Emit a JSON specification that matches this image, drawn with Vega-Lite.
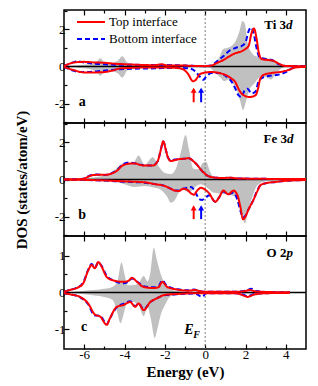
{
"$schema":"https://vega.github.io/schema/vega-lite/v6.json",
"padding":{"left":13,"top":8,"right":8,"bottom":4},
"spacing":0,
"bounds":"flush",
"config":{
 "view":{"stroke":"black","strokeWidth":1.5},
 "axis":{"grid":false,"domain":false,"tickColor":"black","tickWidth":1.2,"labelFont":"Liberation Serif","labelFontSize":13,"labelColor":"black","titleFont":"Liberation Serif","titleFontSize":15,"titleFontWeight":"bold","titleColor":"black"},
 "text":{"font":"Liberation Serif","color":"black"}
},
"resolve":{"legend":{"color":"independent","strokeDash":"independent"}},
"datasets":{
"a":[
{"s":"G","p":"u","E":-7,"v":0},{"s":"G","p":"u","E":-6.5,"v":0.05},{"s":"G","p":"u","E":-6,"v":0.1},{"s":"G","p":"u","E":-5.6,"v":0.15},{"s":"G","p":"u","E":-5.35,"v":0.3},{"s":"G","p":"u","E":-5.2,"v":0.45},{"s":"G","p":"u","E":-5.0,"v":0.25},{"s":"G","p":"u","E":-4.7,"v":0.2},{"s":"G","p":"u","E":-4.35,"v":0.3},{"s":"G","p":"u","E":-4.1,"v":0.55},{"s":"G","p":"u","E":-3.85,"v":0.2},{"s":"G","p":"u","E":-3.4,"v":0.1},{"s":"G","p":"u","E":-2.5,"v":0.05},{"s":"G","p":"u","E":-1.5,"v":0.03},{"s":"G","p":"u","E":-0.5,"v":0.02},{"s":"G","p":"u","E":0.2,"v":0.03},{"s":"G","p":"u","E":0.5,"v":0.15},{"s":"G","p":"u","E":0.7,"v":0.5},{"s":"G","p":"u","E":0.9,"v":0.95},{"s":"G","p":"u","E":1.1,"v":1.0},{"s":"G","p":"u","E":1.3,"v":1.1},{"s":"G","p":"u","E":1.5,"v":1.35},{"s":"G","p":"u","E":1.7,"v":1.9},{"s":"G","p":"u","E":1.85,"v":2.45},{"s":"G","p":"u","E":1.97,"v":2.3},{"s":"G","p":"u","E":2.1,"v":1.3},{"s":"G","p":"u","E":2.3,"v":0.75},{"s":"G","p":"u","E":2.5,"v":0.55},{"s":"G","p":"u","E":2.8,"v":0.5},{"s":"G","p":"u","E":3.1,"v":0.45},{"s":"G","p":"u","E":3.4,"v":0.25},{"s":"G","p":"u","E":3.7,"v":0.08},{"s":"G","p":"u","E":4.0,"v":0},{"s":"G","p":"u","E":5,"v":0},
{"s":"G","p":"d","E":-7,"v":0},{"s":"G","p":"d","E":-6.5,"v":-0.05},{"s":"G","p":"d","E":-6,"v":-0.1},{"s":"G","p":"d","E":-5.6,"v":-0.18},{"s":"G","p":"d","E":-5.35,"v":-0.35},{"s":"G","p":"d","E":-5.2,"v":-0.5},{"s":"G","p":"d","E":-5.0,"v":-0.28},{"s":"G","p":"d","E":-4.7,"v":-0.25},{"s":"G","p":"d","E":-4.35,"v":-0.35},{"s":"G","p":"d","E":-4.1,"v":-0.6},{"s":"G","p":"d","E":-3.85,"v":-0.2},{"s":"G","p":"d","E":-3.4,"v":-0.1},{"s":"G","p":"d","E":-2.5,"v":-0.05},{"s":"G","p":"d","E":-1.5,"v":-0.03},{"s":"G","p":"d","E":-0.5,"v":-0.02},{"s":"G","p":"d","E":0.2,"v":-0.05},{"s":"G","p":"d","E":0.5,"v":-0.35},{"s":"G","p":"d","E":0.75,"v":-0.6},{"s":"G","p":"d","E":0.95,"v":-0.8},{"s":"G","p":"d","E":1.15,"v":-0.7},{"s":"G","p":"d","E":1.35,"v":-0.9},{"s":"G","p":"d","E":1.55,"v":-1.2},{"s":"G","p":"d","E":1.72,"v":-1.8},{"s":"G","p":"d","E":1.88,"v":-2.35},{"s":"G","p":"d","E":2.02,"v":-1.9},{"s":"G","p":"d","E":2.2,"v":-1.25},{"s":"G","p":"d","E":2.45,"v":-0.9},{"s":"G","p":"d","E":2.7,"v":-0.6},{"s":"G","p":"d","E":2.97,"v":-0.55},{"s":"G","p":"d","E":3.25,"v":-0.7},{"s":"G","p":"d","E":3.5,"v":-0.4},{"s":"G","p":"d","E":3.8,"v":-0.1},{"s":"G","p":"d","E":4.1,"v":0},{"s":"G","p":"d","E":5,"v":0},
{"s":"T","p":"u","E":-7,"v":0.02},{"s":"T","p":"u","E":-6.8,"v":0.12},{"s":"T","p":"u","E":-6.5,"v":0.22},{"s":"T","p":"u","E":-6.0,"v":0.25},{"s":"T","p":"u","E":-5.5,"v":0.22},{"s":"T","p":"u","E":-5.0,"v":0.2},{"s":"T","p":"u","E":-4.5,"v":0.15},{"s":"T","p":"u","E":-4.0,"v":0.12},{"s":"T","p":"u","E":-3.5,"v":0.1},{"s":"T","p":"u","E":-3.0,"v":0.08},{"s":"T","p":"u","E":-2.5,"v":0.07},{"s":"T","p":"u","E":-2.15,"v":0.12},{"s":"T","p":"u","E":-1.9,"v":0.06},{"s":"T","p":"u","E":-1.0,"v":0.05},{"s":"T","p":"u","E":-0.5,"v":0.03},{"s":"T","p":"u","E":0,"v":0.02},{"s":"T","p":"u","E":0.3,"v":0.05},{"s":"T","p":"u","E":0.6,"v":0.2},{"s":"T","p":"u","E":0.9,"v":0.35},{"s":"T","p":"u","E":1.2,"v":0.55},{"s":"T","p":"u","E":1.5,"v":0.72},{"s":"T","p":"u","E":1.8,"v":0.82},{"s":"T","p":"u","E":2.0,"v":0.95},{"s":"T","p":"u","E":2.15,"v":1.1},{"s":"T","p":"u","E":2.3,"v":1.8},{"s":"T","p":"u","E":2.42,"v":2.05},{"s":"T","p":"u","E":2.55,"v":1.5},{"s":"T","p":"u","E":2.65,"v":0.8},{"s":"T","p":"u","E":2.8,"v":0.4},{"s":"T","p":"u","E":3.1,"v":0.35},{"s":"T","p":"u","E":3.4,"v":0.3},{"s":"T","p":"u","E":3.7,"v":0.12},{"s":"T","p":"u","E":4.0,"v":0.03},{"s":"T","p":"u","E":4.5,"v":0.02},{"s":"T","p":"u","E":5,"v":0.02},
{"s":"B","p":"u","E":-7,"v":0.02},{"s":"B","p":"u","E":-6.6,"v":0.2},{"s":"B","p":"u","E":-6.3,"v":0.28},{"s":"B","p":"u","E":-6.0,"v":0.22},{"s":"B","p":"u","E":-5.5,"v":0.15},{"s":"B","p":"u","E":-5.0,"v":0.12},{"s":"B","p":"u","E":-4.5,"v":0.1},{"s":"B","p":"u","E":-4.0,"v":0.1},{"s":"B","p":"u","E":-3.0,"v":0.08},{"s":"B","p":"u","E":-2.0,"v":0.08},{"s":"B","p":"u","E":-1.0,"v":0.05},{"s":"B","p":"u","E":0,"v":0.02},{"s":"B","p":"u","E":0.3,"v":0.05},{"s":"B","p":"u","E":0.6,"v":0.3},{"s":"B","p":"u","E":0.9,"v":0.55},{"s":"B","p":"u","E":1.2,"v":0.85},{"s":"B","p":"u","E":1.5,"v":1.0},{"s":"B","p":"u","E":1.8,"v":1.1},{"s":"B","p":"u","E":2.0,"v":1.3},{"s":"B","p":"u","E":2.15,"v":1.9},{"s":"B","p":"u","E":2.28,"v":2.1},{"s":"B","p":"u","E":2.4,"v":1.8},{"s":"B","p":"u","E":2.55,"v":1.0},{"s":"B","p":"u","E":2.7,"v":0.5},{"s":"B","p":"u","E":3.0,"v":0.4},{"s":"B","p":"u","E":3.3,"v":0.35},{"s":"B","p":"u","E":3.6,"v":0.15},{"s":"B","p":"u","E":4.0,"v":0.03},{"s":"B","p":"u","E":5,"v":0.02},
{"s":"T","p":"d","E":-7,"v":-0.02},{"s":"T","p":"d","E":-6.8,"v":-0.1},{"s":"T","p":"d","E":-6.5,"v":-0.2},{"s":"T","p":"d","E":-6.0,"v":-0.32},{"s":"T","p":"d","E":-5.5,"v":-0.32},{"s":"T","p":"d","E":-5.0,"v":-0.3},{"s":"T","p":"d","E":-4.6,"v":-0.22},{"s":"T","p":"d","E":-4.2,"v":-0.1},{"s":"T","p":"d","E":-3.5,"v":-0.07},{"s":"T","p":"d","E":-2.5,"v":-0.05},{"s":"T","p":"d","E":-1.5,"v":-0.07},{"s":"T","p":"d","E":-1.1,"v":-0.15},{"s":"T","p":"d","E":-0.85,"v":-0.4},{"s":"T","p":"d","E":-0.6,"v":-0.8},{"s":"T","p":"d","E":-0.45,"v":-0.7},{"s":"T","p":"d","E":-0.3,"v":-0.45},{"s":"T","p":"d","E":-0.1,"v":-0.35},{"s":"T","p":"d","E":0.3,"v":-0.3},{"s":"T","p":"d","E":0.7,"v":-0.35},{"s":"T","p":"d","E":1.0,"v":-0.45},{"s":"T","p":"d","E":1.3,"v":-0.65},{"s":"T","p":"d","E":1.5,"v":-0.85},{"s":"T","p":"d","E":1.65,"v":-1.2},{"s":"T","p":"d","E":1.8,"v":-1.45},{"s":"T","p":"d","E":2.0,"v":-1.6},{"s":"T","p":"d","E":2.2,"v":-1.65},{"s":"T","p":"d","E":2.5,"v":-1.55},{"s":"T","p":"d","E":2.62,"v":-1.2},{"s":"T","p":"d","E":2.72,"v":-0.7},{"s":"T","p":"d","E":2.9,"v":-0.45},{"s":"T","p":"d","E":3.3,"v":-0.35},{"s":"T","p":"d","E":3.7,"v":-0.3},{"s":"T","p":"d","E":4.1,"v":-0.2},{"s":"T","p":"d","E":4.5,"v":-0.05},{"s":"T","p":"d","E":5,"v":-0.02},
{"s":"B","p":"d","E":-7,"v":-0.02},{"s":"B","p":"d","E":-6.6,"v":-0.2},{"s":"B","p":"d","E":-6.2,"v":-0.3},{"s":"B","p":"d","E":-5.8,"v":-0.3},{"s":"B","p":"d","E":-5.3,"v":-0.25},{"s":"B","p":"d","E":-4.8,"v":-0.2},{"s":"B","p":"d","E":-4.3,"v":-0.15},{"s":"B","p":"d","E":-3.5,"v":-0.12},{"s":"B","p":"d","E":-2.5,"v":-0.1},{"s":"B","p":"d","E":-1.5,"v":-0.07},{"s":"B","p":"d","E":-0.8,"v":-0.1},{"s":"B","p":"d","E":-0.5,"v":-0.25},{"s":"B","p":"d","E":-0.3,"v":-0.5},{"s":"B","p":"d","E":-0.1,"v":-0.72},{"s":"B","p":"d","E":0.05,"v":-0.55},{"s":"B","p":"d","E":0.3,"v":-0.35},{"s":"B","p":"d","E":0.7,"v":-0.35},{"s":"B","p":"d","E":1.0,"v":-0.5},{"s":"B","p":"d","E":1.3,"v":-0.8},{"s":"B","p":"d","E":1.5,"v":-1.2},{"s":"B","p":"d","E":1.65,"v":-1.55},{"s":"B","p":"d","E":1.8,"v":-1.65},{"s":"B","p":"d","E":1.95,"v":-1.3},{"s":"B","p":"d","E":2.1,"v":-1.2},{"s":"B","p":"d","E":2.3,"v":-1.45},{"s":"B","p":"d","E":2.5,"v":-1.35},{"s":"B","p":"d","E":2.65,"v":-0.8},{"s":"B","p":"d","E":2.85,"v":-0.6},{"s":"B","p":"d","E":3.2,"v":-0.5},{"s":"B","p":"d","E":3.6,"v":-0.45},{"s":"B","p":"d","E":4.0,"v":-0.3},{"s":"B","p":"d","E":4.3,"v":-0.1},{"s":"B","p":"d","E":4.6,"v":-0.03},{"s":"B","p":"d","E":5,"v":-0.02}
],
"b":[
{"s":"G","p":"u","E":-7,"v":0},{"s":"G","p":"u","E":-6.3,"v":0.02},{"s":"G","p":"u","E":-5.8,"v":0.08},{"s":"G","p":"u","E":-5.3,"v":0.15},{"s":"G","p":"u","E":-4.8,"v":0.3},{"s":"G","p":"u","E":-4.4,"v":0.6},{"s":"G","p":"u","E":-4.0,"v":0.9},{"s":"G","p":"u","E":-3.6,"v":0.85},{"s":"G","p":"u","E":-3.3,"v":1.3},{"s":"G","p":"u","E":-3.0,"v":0.8},{"s":"G","p":"u","E":-2.6,"v":1.2},{"s":"G","p":"u","E":-2.3,"v":0.7},{"s":"G","p":"u","E":-2.0,"v":0.35},{"s":"G","p":"u","E":-1.7,"v":0.3},{"s":"G","p":"u","E":-1.45,"v":0.6},{"s":"G","p":"u","E":-1.2,"v":1.5},{"s":"G","p":"u","E":-0.97,"v":2.4},{"s":"G","p":"u","E":-0.8,"v":1.6},{"s":"G","p":"u","E":-0.6,"v":0.6},{"s":"G","p":"u","E":-0.35,"v":0.55},{"s":"G","p":"u","E":-0.1,"v":0.9},{"s":"G","p":"u","E":0.05,"v":0.95},{"s":"G","p":"u","E":0.25,"v":0.4},{"s":"G","p":"u","E":0.5,"v":0.08},{"s":"G","p":"u","E":1.0,"v":0.05},{"s":"G","p":"u","E":2,"v":0.03},{"s":"G","p":"u","E":3,"v":0.02},{"s":"G","p":"u","E":4,"v":0},{"s":"G","p":"u","E":5,"v":0},
{"s":"G","p":"d","E":-7,"v":0},{"s":"G","p":"d","E":-6,"v":-0.02},{"s":"G","p":"d","E":-5,"v":-0.05},{"s":"G","p":"d","E":-4.5,"v":-0.12},{"s":"G","p":"d","E":-4.0,"v":-0.25},{"s":"G","p":"d","E":-3.5,"v":-0.4},{"s":"G","p":"d","E":-3.0,"v":-0.35},{"s":"G","p":"d","E":-2.5,"v":-0.45},{"s":"G","p":"d","E":-2.2,"v":-0.55},{"s":"G","p":"d","E":-1.9,"v":-0.9},{"s":"G","p":"d","E":-1.7,"v":-1.25},{"s":"G","p":"d","E":-1.5,"v":-1.1},{"s":"G","p":"d","E":-1.3,"v":-0.7},{"s":"G","p":"d","E":-1.1,"v":-0.55},{"s":"G","p":"d","E":-0.8,"v":-0.7},{"s":"G","p":"d","E":-0.5,"v":-0.4},{"s":"G","p":"d","E":-0.2,"v":-0.25},{"s":"G","p":"d","E":0.1,"v":-0.45},{"s":"G","p":"d","E":0.4,"v":-0.7},{"s":"G","p":"d","E":0.7,"v":-0.75},{"s":"G","p":"d","E":1.0,"v":-0.8},{"s":"G","p":"d","E":1.3,"v":-0.85},{"s":"G","p":"d","E":1.6,"v":-1.0},{"s":"G","p":"d","E":1.8,"v":-1.6},{"s":"G","p":"d","E":1.97,"v":-2.37},{"s":"G","p":"d","E":2.15,"v":-1.6},{"s":"G","p":"d","E":2.35,"v":-0.9},{"s":"G","p":"d","E":2.6,"v":-0.3},{"s":"G","p":"d","E":3.0,"v":-0.1},{"s":"G","p":"d","E":3.5,"v":-0.05},{"s":"G","p":"d","E":4,"v":-0.02},{"s":"G","p":"d","E":5,"v":0},
{"s":"T","p":"u","E":-7,"v":0},{"s":"T","p":"u","E":-6.3,"v":0.01},{"s":"T","p":"u","E":-6.0,"v":0.05},{"s":"T","p":"u","E":-5.7,"v":0.2},{"s":"T","p":"u","E":-5.4,"v":0.25},{"s":"T","p":"u","E":-5.0,"v":0.25},{"s":"T","p":"u","E":-4.7,"v":0.3},{"s":"T","p":"u","E":-4.4,"v":0.45},{"s":"T","p":"u","E":-4.1,"v":0.75},{"s":"T","p":"u","E":-3.8,"v":0.85},{"s":"T","p":"u","E":-3.5,"v":0.87},{"s":"T","p":"u","E":-3.2,"v":0.78},{"s":"T","p":"u","E":-2.9,"v":0.75},{"s":"T","p":"u","E":-2.6,"v":0.75},{"s":"T","p":"u","E":-2.35,"v":1.0},{"s":"T","p":"u","E":-2.2,"v":1.6},{"s":"T","p":"u","E":-2.08,"v":2.07},{"s":"T","p":"u","E":-1.95,"v":1.6},{"s":"T","p":"u","E":-1.85,"v":1.2},{"s":"T","p":"u","E":-1.7,"v":1.0},{"s":"T","p":"u","E":-1.5,"v":1.05},{"s":"T","p":"u","E":-1.3,"v":1.1},{"s":"T","p":"u","E":-1.05,"v":1.12},{"s":"T","p":"u","E":-0.8,"v":1.15},{"s":"T","p":"u","E":-0.6,"v":1.0},{"s":"T","p":"u","E":-0.45,"v":0.85},{"s":"T","p":"u","E":-0.12,"v":0.42},{"s":"T","p":"u","E":0.13,"v":0.2},{"s":"T","p":"u","E":0.5,"v":0.1},{"s":"T","p":"u","E":0.9,"v":0.08},{"s":"T","p":"u","E":1.2,"v":0.1},{"s":"T","p":"u","E":1.6,"v":0.06},{"s":"T","p":"u","E":2.5,"v":0.04},{"s":"T","p":"u","E":3.5,"v":0.03},{"s":"T","p":"u","E":5,"v":0.02},
{"s":"B","p":"u","E":-7,"v":0},{"s":"B","p":"u","E":-6.3,"v":0.01},{"s":"B","p":"u","E":-6.0,"v":0.06},{"s":"B","p":"u","E":-5.7,"v":0.22},{"s":"B","p":"u","E":-5.4,"v":0.27},{"s":"B","p":"u","E":-5.0,"v":0.24},{"s":"B","p":"u","E":-4.7,"v":0.32},{"s":"B","p":"u","E":-4.4,"v":0.48},{"s":"B","p":"u","E":-4.1,"v":0.8},{"s":"B","p":"u","E":-3.8,"v":0.92},{"s":"B","p":"u","E":-3.5,"v":0.88},{"s":"B","p":"u","E":-3.2,"v":0.8},{"s":"B","p":"u","E":-2.9,"v":0.75},{"s":"B","p":"u","E":-2.6,"v":0.76},{"s":"B","p":"u","E":-2.35,"v":1.0},{"s":"B","p":"u","E":-2.2,"v":1.6},{"s":"B","p":"u","E":-2.08,"v":2.05},{"s":"B","p":"u","E":-1.95,"v":1.6},{"s":"B","p":"u","E":-1.85,"v":1.2},{"s":"B","p":"u","E":-1.7,"v":1.02},{"s":"B","p":"u","E":-1.5,"v":1.08},{"s":"B","p":"u","E":-1.3,"v":1.1},{"s":"B","p":"u","E":-1.05,"v":1.12},{"s":"B","p":"u","E":-0.8,"v":1.15},{"s":"B","p":"u","E":-0.6,"v":1.0},{"s":"B","p":"u","E":-0.45,"v":0.85},{"s":"B","p":"u","E":-0.12,"v":0.42},{"s":"B","p":"u","E":0.13,"v":0.2},{"s":"B","p":"u","E":0.5,"v":0.1},{"s":"B","p":"u","E":0.9,"v":0.08},{"s":"B","p":"u","E":1.2,"v":0.1},{"s":"B","p":"u","E":1.6,"v":0.06},{"s":"B","p":"u","E":2.5,"v":0.04},{"s":"B","p":"u","E":3.5,"v":0.03},{"s":"B","p":"u","E":5,"v":0.02},
{"s":"T","p":"d","E":-7,"v":0},{"s":"T","p":"d","E":-6,"v":-0.02},{"s":"T","p":"d","E":-5,"v":-0.05},{"s":"T","p":"d","E":-4,"v":-0.1},{"s":"T","p":"d","E":-3,"v":-0.15},{"s":"T","p":"d","E":-2.5,"v":-0.25},{"s":"T","p":"d","E":-2.0,"v":-0.35},{"s":"T","p":"d","E":-1.7,"v":-0.5},{"s":"T","p":"d","E":-1.5,"v":-0.6},{"s":"T","p":"d","E":-1.3,"v":-0.62},{"s":"T","p":"d","E":-1.1,"v":-0.5},{"s":"T","p":"d","E":-0.9,"v":-0.55},{"s":"T","p":"d","E":-0.7,"v":-0.75},{"s":"T","p":"d","E":-0.55,"v":-0.82},{"s":"T","p":"d","E":-0.4,"v":-0.6},{"s":"T","p":"d","E":-0.2,"v":-0.45},{"s":"T","p":"d","E":0.0,"v":-0.55},{"s":"T","p":"d","E":0.2,"v":-0.75},{"s":"T","p":"d","E":0.5,"v":-1.2},{"s":"T","p":"d","E":0.7,"v":-0.95},{"s":"T","p":"d","E":0.9,"v":-0.6},{"s":"T","p":"d","E":1.15,"v":-0.8},{"s":"T","p":"d","E":1.4,"v":-0.6},{"s":"T","p":"d","E":1.6,"v":-0.85},{"s":"T","p":"d","E":1.75,"v":-1.5},{"s":"T","p":"d","E":1.88,"v":-2.15},{"s":"T","p":"d","E":2.0,"v":-2.0},{"s":"T","p":"d","E":2.13,"v":-1.66},{"s":"T","p":"d","E":2.38,"v":-1.13},{"s":"T","p":"d","E":2.6,"v":-0.6},{"s":"T","p":"d","E":2.75,"v":-0.3},{"s":"T","p":"d","E":3.0,"v":-0.2},{"s":"T","p":"d","E":3.5,"v":-0.13},{"s":"T","p":"d","E":4.0,"v":-0.07},{"s":"T","p":"d","E":5,"v":-0.03},
{"s":"B","p":"d","E":-7,"v":0},{"s":"B","p":"d","E":-6,"v":-0.02},{"s":"B","p":"d","E":-5,"v":-0.06},{"s":"B","p":"d","E":-4,"v":-0.12},{"s":"B","p":"d","E":-3,"v":-0.17},{"s":"B","p":"d","E":-2.5,"v":-0.25},{"s":"B","p":"d","E":-2.0,"v":-0.35},{"s":"B","p":"d","E":-1.7,"v":-0.5},{"s":"B","p":"d","E":-1.5,"v":-0.6},{"s":"B","p":"d","E":-1.3,"v":-0.6},{"s":"B","p":"d","E":-1.1,"v":-0.5},{"s":"B","p":"d","E":-0.9,"v":-0.45},{"s":"B","p":"d","E":-0.7,"v":-0.4},{"s":"B","p":"d","E":-0.5,"v":-0.65},{"s":"B","p":"d","E":-0.3,"v":-1.05},{"s":"B","p":"d","E":-0.15,"v":-1.1},{"s":"B","p":"d","E":0.05,"v":-0.95},{"s":"B","p":"d","E":0.2,"v":-0.85},{"s":"B","p":"d","E":0.5,"v":-1.2},{"s":"B","p":"d","E":0.7,"v":-0.95},{"s":"B","p":"d","E":0.9,"v":-0.65},{"s":"B","p":"d","E":1.15,"v":-0.8},{"s":"B","p":"d","E":1.4,"v":-0.7},{"s":"B","p":"d","E":1.6,"v":-1.1},{"s":"B","p":"d","E":1.75,"v":-1.7},{"s":"B","p":"d","E":1.88,"v":-2.05},{"s":"B","p":"d","E":2.0,"v":-1.95},{"s":"B","p":"d","E":2.13,"v":-1.66},{"s":"B","p":"d","E":2.38,"v":-1.13},{"s":"B","p":"d","E":2.6,"v":-0.55},{"s":"B","p":"d","E":2.75,"v":-0.3},{"s":"B","p":"d","E":3.0,"v":-0.2},{"s":"B","p":"d","E":3.5,"v":-0.13},{"s":"B","p":"d","E":4.0,"v":-0.07},{"s":"B","p":"d","E":5,"v":-0.03}
],
"c":[
{"s":"G","p":"u","E":-7,"v":0},{"s":"G","p":"u","E":-6.5,"v":0.02},{"s":"G","p":"u","E":-6,"v":0.05},{"s":"G","p":"u","E":-5.5,"v":0.07},{"s":"G","p":"u","E":-5,"v":0.1},{"s":"G","p":"u","E":-4.6,"v":0.15},{"s":"G","p":"u","E":-4.35,"v":0.3},{"s":"G","p":"u","E":-4.15,"v":0.82},{"s":"G","p":"u","E":-4.0,"v":0.5},{"s":"G","p":"u","E":-3.85,"v":0.2},{"s":"G","p":"u","E":-3.6,"v":0.2},{"s":"G","p":"u","E":-3.3,"v":0.25},{"s":"G","p":"u","E":-3.05,"v":0.45},{"s":"G","p":"u","E":-2.85,"v":0.3},{"s":"G","p":"u","E":-2.7,"v":0.6},{"s":"G","p":"u","E":-2.55,"v":1.22},{"s":"G","p":"u","E":-2.4,"v":0.9},{"s":"G","p":"u","E":-2.2,"v":0.5},{"s":"G","p":"u","E":-2.0,"v":0.25},{"s":"G","p":"u","E":-1.8,"v":0.1},{"s":"G","p":"u","E":-1.5,"v":0.05},{"s":"G","p":"u","E":-1.0,"v":0.02},{"s":"G","p":"u","E":0,"v":0.01},{"s":"G","p":"u","E":1.5,"v":0.02},{"s":"G","p":"u","E":2.5,"v":0.03},{"s":"G","p":"u","E":3.5,"v":0.02},{"s":"G","p":"u","E":4,"v":0},{"s":"G","p":"u","E":5,"v":0},
{"s":"G","p":"d","E":-7,"v":0},{"s":"G","p":"d","E":-6.5,"v":-0.02},{"s":"G","p":"d","E":-6,"v":-0.05},{"s":"G","p":"d","E":-5.5,"v":-0.08},{"s":"G","p":"d","E":-5,"v":-0.12},{"s":"G","p":"d","E":-4.6,"v":-0.2},{"s":"G","p":"d","E":-4.4,"v":-0.45},{"s":"G","p":"d","E":-4.2,"v":-0.84},{"s":"G","p":"d","E":-4.0,"v":-0.5},{"s":"G","p":"d","E":-3.85,"v":-0.25},{"s":"G","p":"d","E":-3.6,"v":-0.25},{"s":"G","p":"d","E":-3.3,"v":-0.35},{"s":"G","p":"d","E":-3.05,"v":-0.65},{"s":"G","p":"d","E":-2.85,"v":-0.4},{"s":"G","p":"d","E":-2.7,"v":-0.7},{"s":"G","p":"d","E":-2.5,"v":-1.24},{"s":"G","p":"d","E":-2.35,"v":-0.95},{"s":"G","p":"d","E":-2.2,"v":-0.6},{"s":"G","p":"d","E":-2.0,"v":-0.35},{"s":"G","p":"d","E":-1.8,"v":-0.15},{"s":"G","p":"d","E":-1.5,"v":-0.05},{"s":"G","p":"d","E":-1.0,"v":-0.02},{"s":"G","p":"d","E":0,"v":-0.01},{"s":"G","p":"d","E":1.5,"v":-0.02},{"s":"G","p":"d","E":2.5,"v":-0.03},{"s":"G","p":"d","E":3.5,"v":-0.02},{"s":"G","p":"d","E":4,"v":0},{"s":"G","p":"d","E":5,"v":0},
{"s":"T","p":"u","E":-7,"v":0.02},{"s":"T","p":"u","E":-6.7,"v":0.07},{"s":"T","p":"u","E":-6.37,"v":0.12},{"s":"T","p":"u","E":-6.05,"v":0.25},{"s":"T","p":"u","E":-5.8,"v":0.6},{"s":"T","p":"u","E":-5.63,"v":0.75},{"s":"T","p":"u","E":-5.47,"v":0.66},{"s":"T","p":"u","E":-5.3,"v":0.83},{"s":"T","p":"u","E":-5.13,"v":0.7},{"s":"T","p":"u","E":-4.88,"v":0.42},{"s":"T","p":"u","E":-4.55,"v":0.33},{"s":"T","p":"u","E":-4.05,"v":0.29},{"s":"T","p":"u","E":-3.8,"v":0.32},{"s":"T","p":"u","E":-3.63,"v":0.4},{"s":"T","p":"u","E":-3.38,"v":0.29},{"s":"T","p":"u","E":-3.05,"v":0.15},{"s":"T","p":"u","E":-2.55,"v":0.12},{"s":"T","p":"u","E":-2.3,"v":0.15},{"s":"T","p":"u","E":-2.13,"v":0.29},{"s":"T","p":"u","E":-1.88,"v":0.15},{"s":"T","p":"u","E":-1.38,"v":0.08},{"s":"T","p":"u","E":-0.8,"v":0.05},{"s":"T","p":"u","E":-0.5,"v":0.07},{"s":"T","p":"u","E":-0.3,"v":0.04},{"s":"T","p":"u","E":0,"v":0.02},{"s":"T","p":"u","E":1.5,"v":0.02},{"s":"T","p":"u","E":2.0,"v":0.04},{"s":"T","p":"u","E":2.2,"v":0.07},{"s":"T","p":"u","E":2.5,"v":0.03},{"s":"T","p":"u","E":3.5,"v":0.01},{"s":"T","p":"u","E":4.2,"v":0.01},
{"s":"B","p":"u","E":-7,"v":0.02},{"s":"B","p":"u","E":-6.7,"v":0.07},{"s":"B","p":"u","E":-6.37,"v":0.13},{"s":"B","p":"u","E":-6.05,"v":0.27},{"s":"B","p":"u","E":-5.8,"v":0.62},{"s":"B","p":"u","E":-5.63,"v":0.78},{"s":"B","p":"u","E":-5.47,"v":0.68},{"s":"B","p":"u","E":-5.3,"v":0.82},{"s":"B","p":"u","E":-5.13,"v":0.72},{"s":"B","p":"u","E":-4.88,"v":0.45},{"s":"B","p":"u","E":-4.55,"v":0.33},{"s":"B","p":"u","E":-4.05,"v":0.25},{"s":"B","p":"u","E":-3.8,"v":0.3},{"s":"B","p":"u","E":-3.63,"v":0.38},{"s":"B","p":"u","E":-3.38,"v":0.3},{"s":"B","p":"u","E":-3.05,"v":0.17},{"s":"B","p":"u","E":-2.55,"v":0.14},{"s":"B","p":"u","E":-2.3,"v":0.18},{"s":"B","p":"u","E":-2.13,"v":0.33},{"s":"B","p":"u","E":-1.88,"v":0.17},{"s":"B","p":"u","E":-1.38,"v":0.09},{"s":"B","p":"u","E":-0.8,"v":0.06},{"s":"B","p":"u","E":-0.55,"v":0.08},{"s":"B","p":"u","E":-0.3,"v":0.04},{"s":"B","p":"u","E":0,"v":0.02},{"s":"B","p":"u","E":1.5,"v":0.02},{"s":"B","p":"u","E":2.0,"v":0.05},{"s":"B","p":"u","E":2.3,"v":0.1},{"s":"B","p":"u","E":2.5,"v":0.04},{"s":"B","p":"u","E":3.5,"v":0.01},{"s":"B","p":"u","E":4.2,"v":0.01},
{"s":"T","p":"d","E":-7,"v":-0.02},{"s":"T","p":"d","E":-6.7,"v":-0.05},{"s":"T","p":"d","E":-6.2,"v":-0.12},{"s":"T","p":"d","E":-5.8,"v":-0.3},{"s":"T","p":"d","E":-5.47,"v":-0.6},{"s":"T","p":"d","E":-5.2,"v":-0.66},{"s":"T","p":"d","E":-4.88,"v":-0.88},{"s":"T","p":"d","E":-4.72,"v":-0.7},{"s":"T","p":"d","E":-4.38,"v":-0.39},{"s":"T","p":"d","E":-4.05,"v":-0.34},{"s":"T","p":"d","E":-3.72,"v":-0.26},{"s":"T","p":"d","E":-3.47,"v":-0.39},{"s":"T","p":"d","E":-3.3,"v":-0.3},{"s":"T","p":"d","E":-3.05,"v":-0.48},{"s":"T","p":"d","E":-2.72,"v":-0.26},{"s":"T","p":"d","E":-2.4,"v":-0.16},{"s":"T","p":"d","E":-2.05,"v":-0.07},{"s":"T","p":"d","E":-1.4,"v":-0.04},{"s":"T","p":"d","E":-0.5,"v":-0.02},{"s":"T","p":"d","E":0,"v":-0.02},{"s":"T","p":"d","E":1.5,"v":-0.02},{"s":"T","p":"d","E":1.9,"v":-0.08},{"s":"T","p":"d","E":2.1,"v":-0.12},{"s":"T","p":"d","E":2.4,"v":-0.06},{"s":"T","p":"d","E":3,"v":-0.02},{"s":"T","p":"d","E":4.2,"v":-0.01},
{"s":"B","p":"d","E":-7,"v":-0.02},{"s":"B","p":"d","E":-6.7,"v":-0.05},{"s":"B","p":"d","E":-6.2,"v":-0.13},{"s":"B","p":"d","E":-5.8,"v":-0.32},{"s":"B","p":"d","E":-5.5,"v":-0.62},{"s":"B","p":"d","E":-5.2,"v":-0.64},{"s":"B","p":"d","E":-4.88,"v":-0.86},{"s":"B","p":"d","E":-4.72,"v":-0.7},{"s":"B","p":"d","E":-4.38,"v":-0.4},{"s":"B","p":"d","E":-4.0,"v":-0.3},{"s":"B","p":"d","E":-3.72,"v":-0.24},{"s":"B","p":"d","E":-3.47,"v":-0.37},{"s":"B","p":"d","E":-3.3,"v":-0.3},{"s":"B","p":"d","E":-3.05,"v":-0.46},{"s":"B","p":"d","E":-2.72,"v":-0.26},{"s":"B","p":"d","E":-2.4,"v":-0.16},{"s":"B","p":"d","E":-2.05,"v":-0.08},{"s":"B","p":"d","E":-1.4,"v":-0.05},{"s":"B","p":"d","E":-0.5,"v":-0.03},{"s":"B","p":"d","E":-0.15,"v":-0.12},{"s":"B","p":"d","E":0.05,"v":-0.02},{"s":"B","p":"d","E":1.5,"v":-0.02},{"s":"B","p":"d","E":1.9,"v":-0.06},{"s":"B","p":"d","E":2.1,"v":-0.1},{"s":"B","p":"d","E":2.4,"v":-0.05},{"s":"B","p":"d","E":3,"v":-0.02},{"s":"B","p":"d","E":4.2,"v":-0.01}
]
},
"vconcat":[
{
 "width":242,"height":113,
 "data":{"name":"a"},
 "resolve":{"axis":{"x":"independent","y":"independent"}},
 "layer":[
  {"transform":[{"filter":"datum.s=='G'"}],
   "mark":{"type":"area","color":"#c0c0c0","interpolate":"monotone"},
   "encoding":{
    "x":{"field":"E","type":"quantitative","scale":{"domain":[-7,5],"nice":false},"axis":{"orient":"bottom","values":[-6,-4,-2,0,2,4],"tickSize":-5,"labels":false,"title":null}},
    "y":{"field":"v","type":"quantitative","stack":null,"scale":{"domain":[-3.05,3.05],"nice":false},"axis":{"orient":"left","values":[-2,0,2],"tickSize":-5,"labelPadding":4,"labelExpr":"''+datum.value","minExtent":22,"maxExtent":22,"title":null}},
    "detail":{"field":"p"}}},
  {"data":{"values":[{}]},"mark":{"type":"rule","color":"#808080","strokeDash":[2,2],"strokeWidth":1},
   "encoding":{"x":{"datum":0,"axis":{"orient":"top","values":[-6,-4,-2,0,2,4],"tickSize":-5,"labels":false,"title":null}}}},
  {"data":{"values":[{}]},"mark":{"type":"rule","color":"black","strokeWidth":1.5},"encoding":{"y":{"datum":0,"axis":null}}},
  {"transform":[{"filter":"datum.s=='B'"}],"mark":{"type":"line","strokeWidth":2,"interpolate":"monotone"},
   "encoding":{
    "x":{"field":"E","type":"quantitative","axis":{"orient":"bottom","values":[-5,-3,-1,1,3],"tickSize":-3,"labels":false,"title":null}},
    "y":{"field":"v","type":"quantitative","axis":{"orient":"left","values":[-3,-1,1,3],"tickSize":-3,"labels":false,"title":null}},
    "color":{"field":"s","type":"nominal","scale":{"domain":["T","B"],"range":["#ff0000","#0000ff"]},"legend":{"orient":"none","legendX":12,"legendY":5.5,"title":null,"labelExpr":"datum.label=='T'?'Top interface':'Bottom interface'","symbolType":"stroke","symbolSize":784,"symbolStrokeWidth":2,"clipHeight":13,"rowPadding":3,"labelOffset":3,"padding":0,"labelFontSize":13,"labelFont":"Liberation Serif","labelColor":"black"}},
    "strokeDash":{"field":"s","type":"nominal","scale":{"domain":["T","B"],"range":[[1,0],[5,3]]},"legend":{"orient":"none","legendX":12,"legendY":5.5,"title":null,"labelExpr":"datum.label=='T'?'Top interface':'Bottom interface'","symbolType":"stroke","symbolSize":784,"symbolStrokeWidth":2,"clipHeight":13,"rowPadding":3,"labelOffset":3,"padding":0,"labelFontSize":13,"labelFont":"Liberation Serif","labelColor":"black"}},
    "detail":{"field":"p"}}},
  {"transform":[{"filter":"datum.s=='T'"}],"mark":{"type":"line","strokeWidth":2,"interpolate":"monotone"},
   "encoding":{
    "x":{"field":"E","type":"quantitative","axis":{"orient":"top","values":[-5,-3,-1,1,3],"tickSize":-3,"labels":false,"title":null}},
    "y":{"field":"v","type":"quantitative","axis":null},
    "color":{"field":"s","type":"nominal","scale":{"domain":["T","B"],"range":["#ff0000","#0000ff"]},"legend":{"orient":"none","legendX":12,"legendY":5.5,"title":null,"labelExpr":"datum.label=='T'?'Top interface':'Bottom interface'","symbolType":"stroke","symbolSize":784,"symbolStrokeWidth":2,"clipHeight":13,"rowPadding":3,"labelOffset":3,"padding":0,"labelFontSize":13,"labelFont":"Liberation Serif","labelColor":"black"}},
    "strokeDash":{"field":"s","type":"nominal","scale":{"domain":["T","B"],"range":[[1,0],[5,3]]},"legend":{"orient":"none","legendX":12,"legendY":5.5,"title":null,"labelExpr":"datum.label=='T'?'Top interface':'Bottom interface'","symbolType":"stroke","symbolSize":784,"symbolStrokeWidth":2,"clipHeight":13,"rowPadding":3,"labelOffset":3,"padding":0,"labelFontSize":13,"labelFont":"Liberation Serif","labelColor":"black"}},
    "detail":{"field":"p"}}},
  {"data":{"values":[{"s":"T","E":-0.57,"y1":-1.93,"y2":-1.25},{"s":"B","E":-0.2,"y1":-1.93,"y2":-1.25}]},
   "mark":{"type":"rule","strokeWidth":2},
   "encoding":{"x":{"field":"E","type":"quantitative","axis":null},"y":{"field":"y1","type":"quantitative","axis":null},"y2":{"field":"y2"},"color":{"field":"s","type":"nominal","legend":null}}},
  {"data":{"values":[{"s":"T","E":-0.57,"h":-1.28},{"s":"B","E":-0.2,"h":-1.28}]},
   "mark":{"type":"point","shape":"triangle-up","filled":true,"size":35,"opacity":1},
   "encoding":{"x":{"field":"E","type":"quantitative","axis":null},"y":{"field":"h","type":"quantitative","axis":null},"color":{"field":"s","type":"nominal","legend":null}}},
  {"data":{"values":[{"E":-6.1,"v":-1.93,"t":"a"}]},
   "mark":{"type":"text","fontWeight":"bold","fontSize":14,"align":"center","baseline":"middle"},
   "encoding":{"x":{"field":"E","type":"quantitative","axis":null},"y":{"field":"v","type":"quantitative","axis":null},"text":{"field":"t"}}},
  {"data":{"values":[{"E":4.01,"v":2.24,"t":"Ti 3"}]},
   "mark":{"type":"text","fontWeight":"bold","fontSize":13,"align":"right","baseline":"middle"},
   "encoding":{"x":{"field":"E","type":"quantitative","axis":null},"y":{"field":"v","type":"quantitative","axis":null},"text":{"field":"t"}}},
  {"data":{"values":[{"E":4.01,"v":2.24,"t":"d"}]},
   "mark":{"type":"text","fontWeight":"bold","fontStyle":"italic","fontSize":13,"align":"left","baseline":"middle"},
   "encoding":{"x":{"field":"E","type":"quantitative","axis":null},"y":{"field":"v","type":"quantitative","axis":null},"text":{"field":"t"}}}
 ]
},
{
 "width":242,"height":113,
 "data":{"name":"b"},
 "resolve":{"axis":{"x":"independent","y":"independent"}},
 "layer":[
  {"transform":[{"filter":"datum.s=='G'"}],
   "mark":{"type":"area","color":"#c0c0c0","interpolate":"monotone"},
   "encoding":{
    "x":{"field":"E","type":"quantitative","scale":{"domain":[-7,5],"nice":false},"axis":{"orient":"bottom","values":[-6,-4,-2,0,2,4],"tickSize":-5,"labels":false,"title":null}},
    "y":{"field":"v","type":"quantitative","stack":null,"scale":{"domain":[-3.05,3.05],"nice":false},"axis":{"orient":"left","values":[-2,0,2],"tickSize":-5,"labelPadding":4,"labelExpr":"''+datum.value","minExtent":22,"maxExtent":22,"title":"DOS (states/atom/eV)","titlePadding":13}},
    "detail":{"field":"p"}}},
  {"data":{"values":[{}]},"mark":{"type":"rule","color":"#808080","strokeDash":[2,2],"strokeWidth":1},
   "encoding":{"x":{"datum":0,"axis":{"orient":"top","values":[-6,-4,-2,0,2,4],"tickSize":-5,"labels":false,"title":null}}}},
  {"data":{"values":[{}]},"mark":{"type":"rule","color":"black","strokeWidth":1.5},"encoding":{"y":{"datum":0,"axis":null}}},
  {"transform":[{"filter":"datum.s=='B'"}],"mark":{"type":"line","strokeWidth":2,"interpolate":"monotone"},
   "encoding":{
    "x":{"field":"E","type":"quantitative","axis":{"orient":"bottom","values":[-5,-3,-1,1,3],"tickSize":-3,"labels":false,"title":null}},
    "y":{"field":"v","type":"quantitative","axis":{"orient":"left","values":[-3,-1,1,3],"tickSize":-3,"labels":false,"title":null}},
    "color":{"field":"s","type":"nominal","scale":{"domain":["T","B"],"range":["#ff0000","#0000ff"]},"legend":null},
    "strokeDash":{"field":"s","type":"nominal","scale":{"domain":["T","B"],"range":[[1,0],[5,3]]},"legend":null},
    "detail":{"field":"p"}}},
  {"transform":[{"filter":"datum.s=='T'"}],"mark":{"type":"line","strokeWidth":2,"interpolate":"monotone"},
   "encoding":{
    "x":{"field":"E","type":"quantitative","axis":{"orient":"top","values":[-5,-3,-1,1,3],"tickSize":-3,"labels":false,"title":null}},
    "y":{"field":"v","type":"quantitative","axis":null},
    "color":{"field":"s","type":"nominal","scale":{"domain":["T","B"],"range":["#ff0000","#0000ff"]},"legend":null},
    "strokeDash":{"field":"s","type":"nominal","scale":{"domain":["T","B"],"range":[[1,0],[5,3]]},"legend":null},
    "detail":{"field":"p"}}},
  {"data":{"values":[{"s":"T","E":-0.57,"y1":-2.14,"y2":-1.5},{"s":"B","E":-0.2,"y1":-2.14,"y2":-1.5}]},
   "mark":{"type":"rule","strokeWidth":2},
   "encoding":{"x":{"field":"E","type":"quantitative","axis":null},"y":{"field":"y1","type":"quantitative","axis":null},"y2":{"field":"y2"},"color":{"field":"s","type":"nominal","legend":null}}},
  {"data":{"values":[{"s":"T","E":-0.57,"h":-1.53},{"s":"B","E":-0.2,"h":-1.53}]},
   "mark":{"type":"point","shape":"triangle-up","filled":true,"size":35,"opacity":1},
   "encoding":{"x":{"field":"E","type":"quantitative","axis":null},"y":{"field":"h","type":"quantitative","axis":null},"color":{"field":"s","type":"nominal","legend":null}}},
  {"data":{"values":[{"E":-6.1,"v":-1.93,"t":"b"}]},
   "mark":{"type":"text","fontWeight":"bold","fontSize":14,"align":"center","baseline":"middle"},
   "encoding":{"x":{"field":"E","type":"quantitative","axis":null},"y":{"field":"v","type":"quantitative","axis":null},"text":{"field":"t"}}},
  {"data":{"values":[{"E":4.06,"v":2.2,"t":"Fe 3"}]},
   "mark":{"type":"text","fontWeight":"bold","fontSize":13,"align":"right","baseline":"middle"},
   "encoding":{"x":{"field":"E","type":"quantitative","axis":null},"y":{"field":"v","type":"quantitative","axis":null},"text":{"field":"t"}}},
  {"data":{"values":[{"E":4.06,"v":2.2,"t":"d"}]},
   "mark":{"type":"text","fontWeight":"bold","fontStyle":"italic","fontSize":13,"align":"left","baseline":"middle"},
   "encoding":{"x":{"field":"E","type":"quantitative","axis":null},"y":{"field":"v","type":"quantitative","axis":null},"text":{"field":"t"}}}
 ]
},
{
 "width":242,"height":113,
 "data":{"name":"c"},
 "resolve":{"axis":{"x":"independent","y":"independent"}},
 "layer":[
  {"transform":[{"filter":"datum.s=='G'"}],
   "mark":{"type":"area","color":"#c0c0c0","interpolate":"monotone"},
   "encoding":{
    "x":{"field":"E","type":"quantitative","scale":{"domain":[-7,5],"nice":false},"axis":{"orient":"bottom","values":[-6,-4,-2,0,2,4],"tickSize":-5,"labelPadding":4,"labelExpr":"''+datum.value","title":"Energy (eV)","titlePadding":3}},
    "y":{"field":"v","type":"quantitative","stack":null,"scale":{"domain":[-1.54,1.54],"nice":false},"axis":{"orient":"left","values":[-1,0,1],"tickSize":-5,"labelPadding":4,"labelExpr":"''+datum.value","minExtent":22,"maxExtent":22,"title":null}},
    "detail":{"field":"p"}}},
  {"data":{"values":[{}]},"mark":{"type":"rule","color":"#808080","strokeDash":[2,2],"strokeWidth":1},
   "encoding":{"x":{"datum":0,"axis":{"orient":"top","values":[-6,-4,-2,0,2,4],"tickSize":-5,"labels":false,"title":null}}}},
  {"data":{"values":[{}]},"mark":{"type":"rule","color":"black","strokeWidth":1.5},"encoding":{"y":{"datum":0,"axis":null}}},
  {"transform":[{"filter":"datum.s=='B'"}],"mark":{"type":"line","strokeWidth":2,"interpolate":"monotone"},
   "encoding":{
    "x":{"field":"E","type":"quantitative","axis":{"orient":"bottom","values":[-5,-3,-1,1,3],"tickSize":-3,"labels":false,"title":null}},
    "y":{"field":"v","type":"quantitative","axis":{"orient":"left","values":[-0.5,0.5],"tickSize":-3,"labels":false,"title":null}},
    "color":{"field":"s","type":"nominal","scale":{"domain":["T","B"],"range":["#ff0000","#0000ff"]},"legend":null},
    "strokeDash":{"field":"s","type":"nominal","scale":{"domain":["T","B"],"range":[[1,0],[5,3]]},"legend":null},
    "detail":{"field":"p"}}},
  {"transform":[{"filter":"datum.s=='T'"}],"mark":{"type":"line","strokeWidth":2,"interpolate":"monotone"},
   "encoding":{
    "x":{"field":"E","type":"quantitative","axis":{"orient":"top","values":[-5,-3,-1,1,3],"tickSize":-3,"labels":false,"title":null}},
    "y":{"field":"v","type":"quantitative","axis":null},
    "color":{"field":"s","type":"nominal","scale":{"domain":["T","B"],"range":["#ff0000","#0000ff"]},"legend":null},
    "strokeDash":{"field":"s","type":"nominal","scale":{"domain":["T","B"],"range":[[1,0],[5,3]]},"legend":null},
    "detail":{"field":"p"}}},
  {"data":{"values":[{"E":-6.0,"v":-0.94,"t":"c"}]},
   "mark":{"type":"text","fontWeight":"bold","fontSize":14,"align":"center","baseline":"middle"},
   "encoding":{"x":{"field":"E","type":"quantitative","axis":null},"y":{"field":"v","type":"quantitative","axis":null},"text":{"field":"t"}}},
  {"data":{"values":[{"E":4.03,"v":1.08,"t":"O 2"}]},
   "mark":{"type":"text","fontWeight":"bold","fontSize":13,"align":"right","baseline":"middle"},
   "encoding":{"x":{"field":"E","type":"quantitative","axis":null},"y":{"field":"v","type":"quantitative","axis":null},"text":{"field":"t"}}},
  {"data":{"values":[{"E":4.03,"v":1.08,"t":"p"}]},
   "mark":{"type":"text","fontWeight":"bold","fontStyle":"italic","fontSize":13,"align":"left","baseline":"middle"},
   "encoding":{"x":{"field":"E","type":"quantitative","axis":null},"y":{"field":"v","type":"quantitative","axis":null},"text":{"field":"t"}}},
  {"data":{"values":[{"E":-0.8,"v":-1.02,"t":"E"}]},
   "mark":{"type":"text","fontWeight":"bold","fontStyle":"italic","fontSize":14,"align":"center","baseline":"middle"},
   "encoding":{"x":{"field":"E","type":"quantitative","axis":null},"y":{"field":"v","type":"quantitative","axis":null},"text":{"field":"t"}}},
  {"data":{"values":[{"E":-0.42,"v":-1.17,"t":"F"}]},
   "mark":{"type":"text","fontWeight":"bold","fontStyle":"italic","fontSize":10,"align":"center","baseline":"middle"},
   "encoding":{"x":{"field":"E","type":"quantitative","axis":null},"y":{"field":"v","type":"quantitative","axis":null},"text":{"field":"t"}}}
 ]
}
]
}
